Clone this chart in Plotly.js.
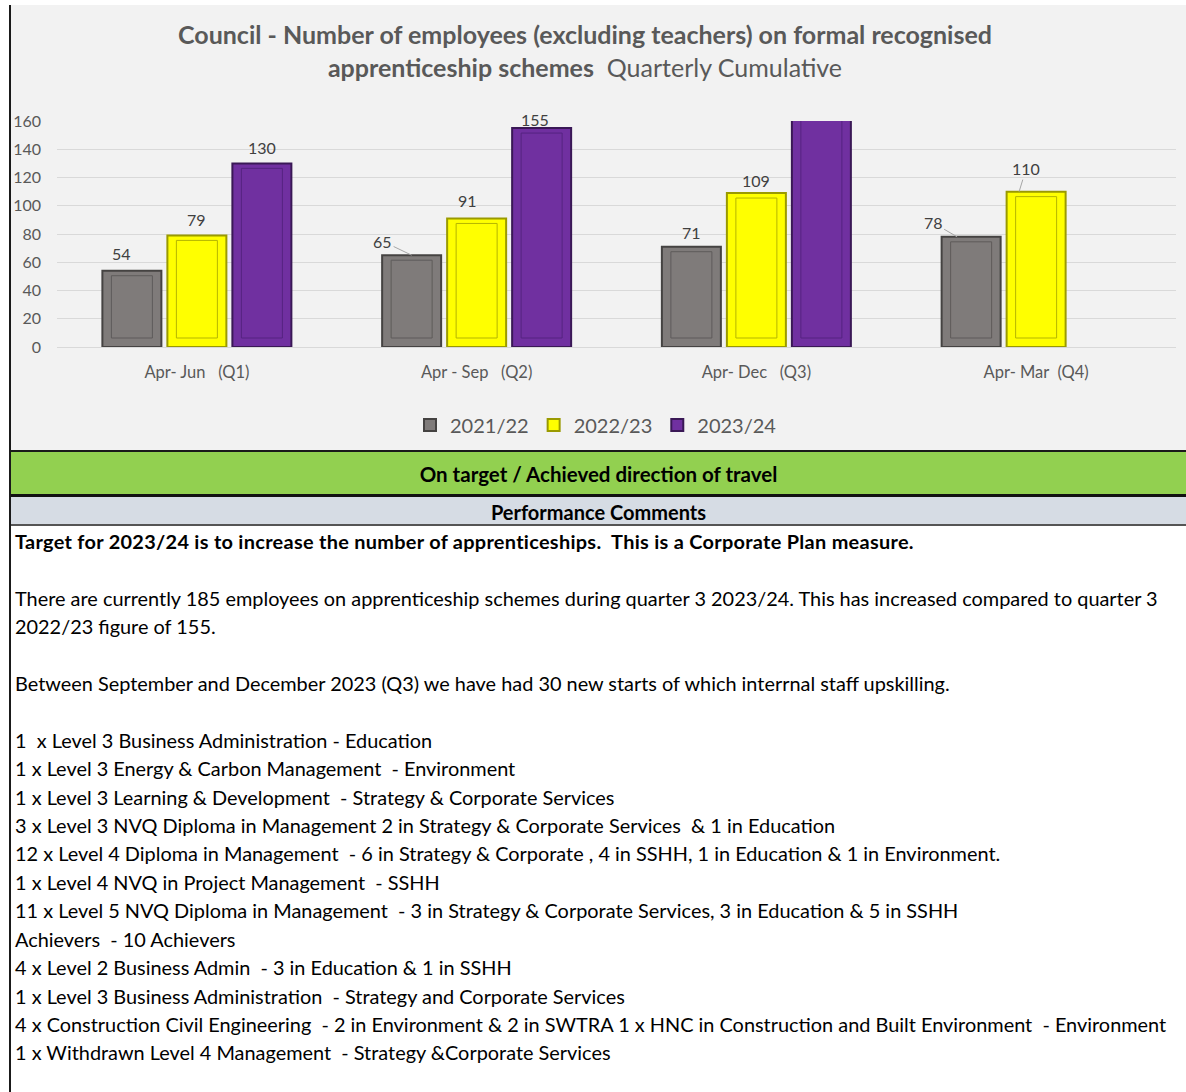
<!DOCTYPE html>
<html>
<head>
<meta charset="utf-8">
<script src="https://cdn.plot.ly/plotly-3.0.1.min.js"></script>
<style>
  html, body { margin: 0; padding: 0; background: #ffffff; }
  #page { position: relative; width: 1186px; height: 1092px; overflow: hidden; background: #fff; font-family: Lato, "Open Sans", sans-serif; }
  #chart { position: absolute; left: 11px; top: 5px; width: 1175px; height: 446px; }
  .leftline { position: absolute; left: 9px; top: 5px; width: 2px; height: 1087px; background: #1a1a1a; }
  .band { position: absolute; left: 11px; width: 1175px; text-align: center; font-weight: bold; color: #000; }
  #green { top: 450px; height: 42px; line-height: 44px; background: #92d050; border-top: 2px solid #1a1a1a; border-bottom: 3px solid #111; font-size: 20.5px; }
  #gray { top: 497px; height: 27px; line-height: 31px; background: #d6dce4; border-bottom: 2px solid #555; font-size: 20px; }
  #comments { position: absolute; left: 15px; top: 527px; width: 1170px; font-size: 19.9px; line-height: 28.4px; color: #000; white-space: pre; }
  #comments .b { font-weight: bold; letter-spacing: 0.3px; }
</style>
</head>
<body>
<div id="page">
  <div id="chart"></div>
  <div class="leftline"></div>
  <div id="green" class="band">On target / Achieved direction of travel</div>
  <div id="gray" class="band">Performance Comments</div>
  <div id="comments"></div>
</div>
<script>
// ---- Data ----
const categories = ["Apr- Jun\u00a0\u00a0 (Q1)", "Apr - Sep\u00a0\u00a0 (Q2)", "Apr- Dec\u00a0\u00a0 (Q3)", "Apr- Mar\u00a0 (Q4)"];
const seriesNames = ["2021/22", "2022/23", "2023/24"];
const values2021 = [54, 65, 71, 78];
const values2022 = [79, 91, 109, 110];
const values2023 = [130, 155, 185, null];
const yTicks = [0, 20, 40, 60, 80, 100, 120, 140, 160];

const titleLine1 = "Council - Number of employees (excluding teachers) on formal recognised";
const titleLine2Bold = "apprenticeship schemes";
const titleLine2 = "Quarterly Cumulative";

const commentLines = [
  {t: "Target for 2023/24 is to increase the number of apprenticeships.  This is a Corporate Plan measure.", b: true},
  {t: ""},
  {t: "There are currently 185 employees on apprenticeship schemes during quarter 3 2023/24. This has increased compared to quarter 3"},
  {t: "2022/23 figure of 155."},
  {t: ""},
  {t: "Between September and December 2023 (Q3) we have had 30 new starts of which interrnal staff upskilling."},
  {t: ""},
  {t: "1  x Level 3 Business Administration - Education"},
  {t: "1 x Level 3 Energy & Carbon Management  - Environment"},
  {t: "1 x Level 3 Learning & Development  - Strategy & Corporate Services"},
  {t: "3 x Level 3 NVQ Diploma in Management 2 in Strategy & Corporate Services  & 1 in Education"},
  {t: "12 x Level 4 Diploma in Management  - 6 in Strategy & Corporate , 4 in SSHH, 1 in Education & 1 in Environment."},
  {t: "1 x Level 4 NVQ in Project Management  - SSHH"},
  {t: "11 x Level 5 NVQ Diploma in Management  - 3 in Strategy & Corporate Services, 3 in Education & 5 in SSHH"},
  {t: "Achievers  - 10 Achievers"},
  {t: "4 x Level 2 Business Admin  - 3 in Education & 1 in SSHH"},
  {t: "1 x Level 3 Business Administration  - Strategy and Corporate Services"},
  {t: "4 x Construction Civil Engineering  - 2 in Environment & 2 in SWTRA 1 x HNC in Construction and Built Environment  - Environment"},
  {t: "1 x Withdrawn Level 4 Management  - Strategy &Corporate Services"}
];

// ---- Comments (HTML text) ----
const cdiv = document.getElementById('comments');
commentLines.forEach(l => {
  const d = document.createElement('div');
  d.textContent = l.t === "" ? "\u00a0" : l.t;
  if (l.b) d.className = 'b';
  cdiv.appendChild(d);
});

// ---- Styles ----
const series = [values2021, values2022, values2023];
const fills = ["#7f7b7a", "#ffff00", "#7030a0"];
const edges = ["#454342", "#9a9a00", "#3a1856"];
const inner = ["#5e5b5a", "#b5b500", "#552380"];
const catW = 1119;
const pxPerCat = catW / 4;
const barW = 59 / pxPerCat;
const slot = 65 / pxPerCat;
const pxPerUnit = 226 / 160;

const traces = [];
series.forEach((vals, k) => {
  const center = (k - 1) * slot;
  traces.push({
    type: 'bar', name: seriesNames[k], x: categories, y: vals,
    width: barW, offset: center - barW / 2,
    marker: {color: fills[k], line: {color: edges[k], width: 2}},
    hoverinfo: 'y', showlegend: true
  });
});
// inner bevel outlines
series.forEach((vals, k) => {
  const center = (k - 1) * slot;
  const insetSide = 9 / pxPerCat;
  const insetTop = 5 / pxPerUnit, insetBot = 9 / pxPerUnit;
  traces.push({
    type: 'bar', name: seriesNames[k] + ' bevel', x: categories,
    y: vals.map(v => v == null ? null : v - insetTop - insetBot),
    base: insetBot,
    width: barW - 2 * insetSide, offset: center - barW / 2 + insetSide,
    marker: {color: 'rgba(0,0,0,0)', line: {color: inner[k], width: 1}},
    hoverinfo: 'skip', showlegend: false
  });
});

// ---- Data labels ----
// per label: [seriesIndex, catIndex, textDx, textDyAboveTop, leader?{tipDx, ax, ay}]
const labelStyle = [
  [0, 0, -10, 17, null], [1, 0, 0, 16, null], [2, 0, 0, 16, null],
  [0, 1, 0, 0, {tipDx: 0, ax: -29, ay: -14}], [1, 1, -9, 18, null], [2, 1, -7, 9, null],
  [0, 2, 0, 14, null], [1, 2, 0, 13, null],
  [0, 3, 0, 0, {tipDx: -14, ax: -24, ay: -14}], [1, 3, 0, 0, {tipDx: -17, ax: 7, ay: -23}]
];
const annotations = [];
labelStyle.forEach(([k, i, dx, dy, lead]) => {
  const v = series[k][i];
  const centerPx = (k - 1) * 65;
  const common = {x: i, y: v, xref: 'x', yref: 'y', text: String(v),
    font: {family: 'Lato, sans-serif', size: 16, color: '#404040'}};
  if (lead) {
    annotations.push(Object.assign(common, {showarrow: true, arrowhead: 0, arrowwidth: 1,
      arrowcolor: '#a6a6a6', ax: lead.ax, ay: lead.ay, xshift: centerPx + lead.tipDx, standoff: 0}));
  } else {
    annotations.push(Object.assign(common, {showarrow: false, xshift: centerPx + dx, yshift: dy,
      yanchor: 'middle'}));
  }
});
// title
annotations.push({
  xref: 'paper', yref: 'paper', x: (585 - 57) / 1119, y: (347 - 51) / 226,
  xanchor: 'center', yanchor: 'middle', showarrow: false,
  text: '<b>' + titleLine1 + '</b><br><b>' + titleLine2Bold + '</b>\u00a0 ' + titleLine2,
  font: {family: 'Lato, sans-serif', size: 25, color: '#595959'}
});

const layout = {
  width: 1175, height: 446,
  margin: {l: 46, r: 10, t: 116, b: 104, pad: 0, autoexpand: false},
  paper_bgcolor: '#f2f2f2', plot_bgcolor: '#f2f2f2',
  barmode: 'overlay',
  font: {family: 'Lato, sans-serif', color: '#595959'},
  xaxis: {type: 'category', categoryarray: categories, tickfont: {size: 16.5, color: '#595959'},
    ticks: '', showline: false, showgrid: false, zeroline: false, ticklabelstandoff: 13, automargin: false},
  yaxis: {range: [0, 160], tickvals: yTicks, ticks: '', tickfont: {size: 16, color: '#595959'},
    gridcolor: '#d9d9d9', gridwidth: 1, zeroline: true, zerolinecolor: '#d9d9d9', zerolinewidth: 1,
    showline: false, ticklabelstandoff: 15, fixedrange: true, automargin: false},
  legend: {orientation: 'h', x: (596 - 57) / 1119, xanchor: 'center', y: (347 - 425) / 226, yanchor: 'middle',
    font: {size: 20, color: '#595959'}, bgcolor: 'rgba(0,0,0,0)', traceorder: 'normal'},
  annotations: annotations,
  showlegend: true
};

Plotly.newPlot('chart', traces, layout, {displayModeBar: false, staticPlot: true});
</script>
</body>
</html>
